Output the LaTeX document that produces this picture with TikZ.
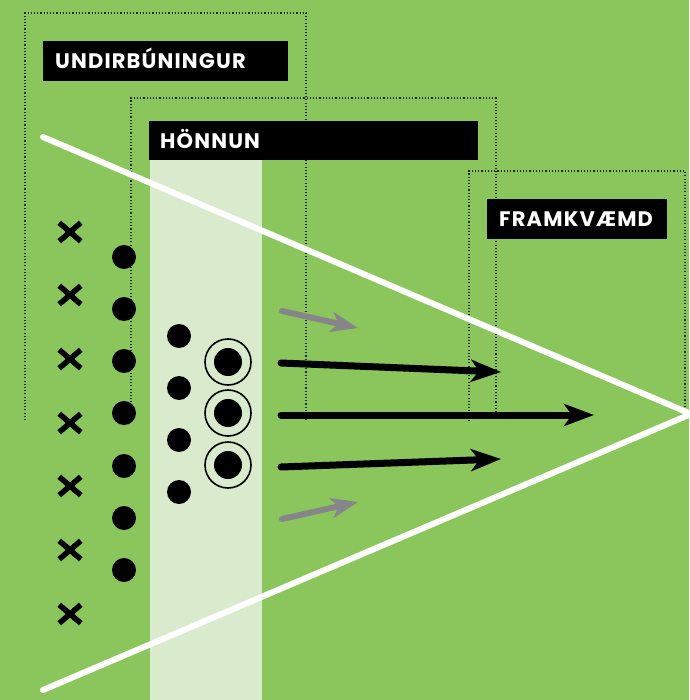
\documentclass[tikz,border=0pt]{standalone}
\usepackage{fontspec}
\setsansfont{Poppins}
\usetikzlibrary{shapes.misc, arrows.meta}
\definecolor{pitch}{HTML}{8AC65B}
\definecolor{band}{HTML}{D9EBCC}
\definecolor{ghost}{HTML}{86868A}
\tikzset{
  tag/.style={fill=black, text=white, anchor=north west, minimum height=40pt,
    inner xsep=12pt, inner ysep=0pt, text height=15.5pt, text depth=0pt, align=left,
    font=\sffamily\bfseries\fontsize{21}{24}\selectfont\addfontfeature{LetterSpace=5.5}},
  phase/.style={black!85, line width=1.1pt, dash pattern=on 1.1pt off 2.1pt},
  chalk/.style={white, line width=6pt, line cap=round, line join=round},
  player/.style={circle, fill=black, minimum size=24pt, inner sep=0pt},
  keyman/.style={circle, fill=black, minimum size=28pt, inner sep=0pt},
  rival/.style={cross out, draw=black, line width=5.5pt, minimum width=16pt, minimum height=13pt, inner sep=0pt},
  run/.style={-{Stealth[length=30pt, width=22pt, inset=8pt]}, line width=7pt, line cap=round},
  pass/.style={-{Stealth[length=27pt, width=20pt, inset=7pt]}, ghost, line width=6pt, line cap=round}
}
\begin{document}
\begin{tikzpicture}[x=1pt, y=-1pt]
  \useasboundingbox (0,0) rectangle (689,700);
  \clip (0,0) rectangle (689,700);
  \fill[pitch] (0,0) rectangle (689,700);
  \fill[band] (150,160) rectangle (262,700);

  % phases
  \draw[phase] (25,420) |- (306,13) -- (306,420);
  \draw[phase] (131,412) |- (496,98) -- (496,412);
  \draw[phase] (469,421) |- (685,171) -- (685,421);

  % field lines
  \draw[chalk] (43,137) -- (691,414) -- (43,690);

  \node[tag, text width=221pt] (Undirbuningur) at (43,41) {UNDIRBÚNINGUR};
  \node[tag, text width=307pt, inner xsep=11pt, minimum height=39pt] (Honnun) at (149,121) {HÖNNUN};
  \node[tag, text width=156pt] (Framkvaemd) at (487,199) {FRAMKVÆMD};

  \foreach \y [count=\i] in {232,295,359,423,486,550,614}
    \node[rival] (x\i) at (70,\y) {};
  \foreach \y [count=\i] in {257,309,361,413,466,518,570}
    \node[player] (a\i) at (124,\y) {};
  \foreach \y [count=\i] in {336,388,440,492}
    \node[player] (b\i) at (179,\y) {};
  \foreach \y [count=\i] in {362,413,465} {
    \node[keyman] (k\i) at (228,\y) {};
    \draw[line width=1.6pt] (k\i.center) circle (23pt);
  }

  % moves
  \coordinate (p1) at (282,311);  \coordinate (q1) at (358,328);
  \coordinate (p2) at (282,519);  \coordinate (q2) at (358,502);
  \coordinate (r1) at (281,363);  \coordinate (s1) at (501,372);
  \coordinate (r2) at (281,415);  \coordinate (s2) at (594,415);
  \coordinate (r3) at (281,467);  \coordinate (s3) at (501,459);
  \draw[pass] (p1) -- (q1);
  \draw[pass] (p2) -- (q2);
  \draw[run] (r1) -- (s1);
  \draw[run] (r2) -- (s2);
  \draw[run] (r3) -- (s3);
\end{tikzpicture}
\end{document}
